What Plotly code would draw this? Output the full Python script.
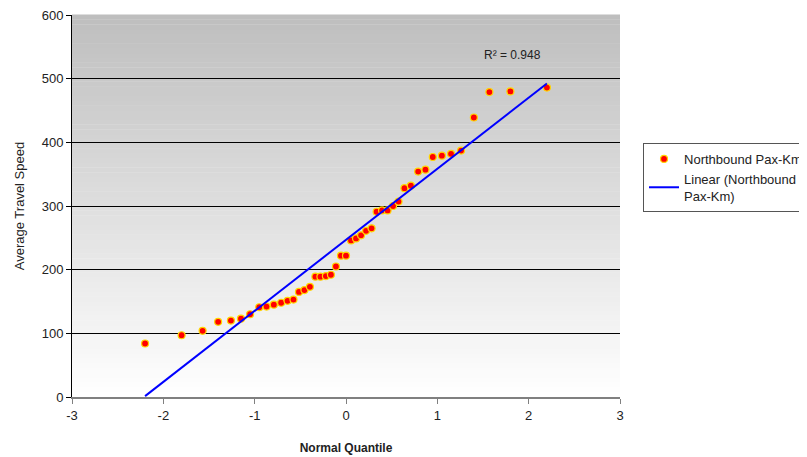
import numpy as np
import plotly.graph_objects as go

# Data
normal_quantile = [-2.20, -1.80, -1.57, -1.40, -1.26, -1.15, -1.05, -0.95, -0.87, -0.79,
                   -0.71, -0.64, -0.575, -0.515, -0.455, -0.395, -0.335, -0.28, -0.22, -0.165,
                   -0.11, -0.055, 0.0, 0.055, 0.11, 0.165, 0.22, 0.28, 0.335, 0.395,
                   0.455, 0.515, 0.575, 0.64, 0.71, 0.79, 0.87, 0.95, 1.05, 1.15,
                   1.26, 1.40, 1.57, 1.80, 2.20]
travel_speed = [84, 97, 104, 118, 120, 123, 130, 141, 142, 145,
                148, 151, 153, 165, 168, 173, 189, 189, 190, 192,
                205, 222, 222, 246, 249, 254, 261, 265, 291, 293,
                293, 300, 307, 328, 332, 354, 357, 377, 379, 382,
                387, 439, 479, 480, 486]
y_ticks = [0, 100, 200, 300, 400, 500, 600]
x_ticks = [-3, -2, -1, 0, 1, 2, 3]
x_tick_labels = ["-3", "-2", "-1", "0", "1", "2", "3"]
r2_text = "R² = 0.948"

# Linear trendline (least squares on the data)
slope, intercept = np.polyfit(normal_quantile, travel_speed, 1)
fit_x = [min(normal_quantile), max(normal_quantile)]
fit_y = [slope * v + intercept for v in fit_x]

fig = go.Figure()
fig.add_trace(go.Scatter(
    x=normal_quantile, y=travel_speed, mode="markers",
    name="Northbound Pax-Km", legendgroup="a",
    marker=dict(color="#ff0000", size=7, line=dict(color="#ffd700", width=1.2)),
))
fig.add_trace(go.Scatter(
    x=fit_x, y=fit_y, mode="lines",
    name="Linear (Northbound<br>Pax-Km)", legendgroup="b",
    line=dict(color="#0000ff", width=2),
))

# gradient background bands
shapes = []
n = 80
for i in range(n):
    t = i / n
    c = int(round(255 - (255 - 190) * (t + 0.5 / n)))
    shapes.append(dict(type="rect", xref="paper", yref="paper",
                       x0=0, x1=1, y0=t, y1=(i + 1) / n + 0.001,
                       fillcolor=f"rgb({c},{c},{c})", line=dict(width=0),
                       layer="below"))

fig.update_layout(
    width=807, height=457,
    margin=dict(l=64, r=195, t=7, b=68, autoexpand=False),
    paper_bgcolor="white", plot_bgcolor="rgba(0,0,0,0)",
    font=dict(family="Liberation Sans, Arial, sans-serif", size=13, color="#222222"),
    shapes=shapes,
    showlegend=True,
    legend=dict(x=1.042, y=0.665, xanchor="left", yanchor="top",
                bgcolor="white", bordercolor="#555555", borderwidth=1,
                font=dict(size=13, color="#222222"), tracegroupgap=0),
    annotations=[dict(x=1.82, y=537, xref="x", yref="y", text=r2_text,
                      showarrow=False, font=dict(size=12, color="#222222"))],
)
fig.update_xaxes(
    range=[-3, 3], tickvals=x_ticks, ticktext=x_tick_labels,
    showgrid=False, zeroline=False,
    showline=True, linecolor="#808080", linewidth=2,
    ticks="outside", ticklen=5, tickcolor="#808080",
    ticklabeloverflow="allow",
    title=dict(text="<b>Normal Quantile</b>", font=dict(size=12), standoff=22),
)
fig.update_yaxes(
    range=[0, 600], tickvals=y_ticks, showgrid=True, gridcolor="#000000", gridwidth=1,
    zeroline=False, showline=True, linecolor="#000000", linewidth=1,
    ticks="outside", ticklen=5, tickcolor="#000000",
    ticklabeloverflow="allow",
    title=dict(text="Average Travel Speed", font=dict(size=13), standoff=14),
)

fig.write_html("out.html")
